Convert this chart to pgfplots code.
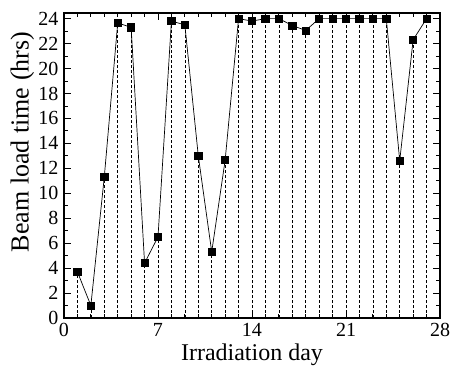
\documentclass[border=0pt]{standalone}
\usepackage{fontspec}
\setmainfont{Liberation Serif}
\usepackage{pgfplots}
\usepackage{pgfplotstable}
\pgfplotsset{compat=1.18}
\pgfplotstableread{
x y
1 3.7
2 1.0
3 11.3
4 23.65
5 23.3
6 4.4
7 6.5
8 23.8
9 23.5
10 13.0
11 5.3
12 12.65
13 24
14 23.8
15 24
16 24
17 23.45
18 23.05
19 24
20 24
21 24
22 24
23 24
24 24
25 12.6
26 22.3
27 24
}\beam
\begin{document}
\begin{tikzpicture}
\begin{axis}[name=ax, scale only axis, width=376pt, height=305pt,
  xmin=0, xmax=28, ymin=0, ymax=24.45,
  xtick={0,7,14,21,28}, minor x tick num=6,
  ytick={0,2,...,24}, minor y tick num=1,
  tick align=inside, major tick length=7pt, minor tick length=4pt,
  axis line style={line width=1.2pt},
  tick style={black, line width=0.8pt},
  ticklabel style={font=\fontsize{20}{20}\selectfont},
  xticklabel style={yshift=-2pt},
  yticklabel style={xshift=-2pt},
  /pgf/number format/assume math mode=true,
  xlabel={Irradiation day}, ylabel={Beam load time (hrs)},
  xlabel style={font=\fontsize{24}{24}\selectfont, at={(axis description cs:0.5,-0.1393)}, anchor=base},
  ylabel style={font=\fontsize{26}{26}\selectfont, at={(axis description cs:-0.0944,0.577)}, anchor=base},
]
\addplot[ycomb, black, line width=0.7pt, dash pattern=on 3pt off 2pt, no marks] table[x=x,y=y] {\beam};
\addplot[black, line width=0.7pt, mark=square*, mark size=3.6pt, mark options={solid}] table[x=x,y=y] {\beam};
\end{axis}
\pgfresetboundingbox
\path ([shift={(-64pt,-49pt)}]ax.south west) rectangle ([shift={(10pt,13pt)}]ax.north east);
\end{tikzpicture}
\end{document}
